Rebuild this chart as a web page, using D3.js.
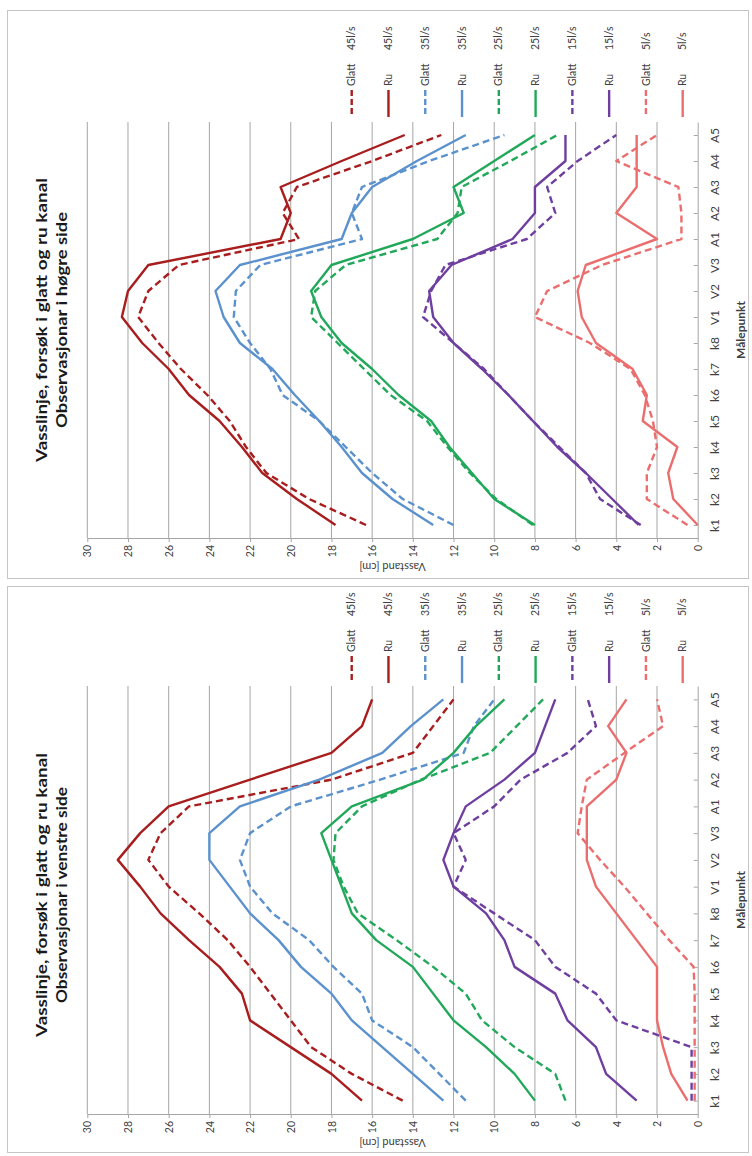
<!DOCTYPE html>
<html>
<head>
<meta charset="utf-8">
<script src="https://cdn.jsdelivr.net/npm/d3@7/dist/d3.min.js"></script>
<style>
  body { margin: 0; background: #fff; }
  svg text { font-family: Lato, "Open Sans", sans-serif; fill: #404040; }
</style>
</head>
<body>
<div id="chart"></div>
<script>
// målepunkt along the channel, and the value ticks (cm)
var categories = ["k1", "k2", "k3", "k4", "k5", "k6", "k7", "k8", "V1", "V2", "V3", "A1", "A2", "A3", "A4", "A5"];
var valueTicks = [0, 2, 4, 6, 8, 10, 12, 14, 16, 18, 20, 22, 24, 26, 28, 30];
var flows = ["45l/s", "35l/s", "25l/s", "15l/s", "5l/s"];
var flowColors = ["#a81d1d", "#5b91cc", "#22a85a", "#6f3fa0", "#eb6e6e"];

// høgre side
var hoRu45    = [17.8, 19.7, 21.4, 22.4, 23.5, 25.0, 26.0, 27.3, 28.3, 28.0, 27.0, 20.5, 20.0, 20.5, 17.5, 14.4];
var hoGlatt45 = [16.3, 19.1, 21.2, 22.2, 23.0, 24.1, 25.4, 26.5, 27.5, 27.0, 25.5, 19.6, 20.4, 19.7, 16.0, 12.6];
var hoRu35    = [13.0, 15.0, 16.5, 17.5, 18.6, 19.8, 20.9, 22.5, 23.3, 23.7, 22.5, 17.5, 17.0, 16.0, 13.8, 11.4];
var hoGlatt35 = [12.0, 14.5, 16.0, 17.3, 18.6, 20.4, 21.0, 22.0, 22.8, 22.7, 21.5, 16.5, 17.0, 16.5, 13.2, 9.5];
var hoRu25    = [8.0, 10.0, 11.1, 12.2, 13.1, 14.7, 16.0, 17.5, 18.5, 19.0, 18.0, 14.0, 11.5, 12.0, 10.0, 8.0];
var hoGlatt25 = [8.1, 9.9, 11.2, 12.3, 13.3, 15.1, 16.4, 17.7, 19.0, 18.8, 17.3, 12.8, 11.8, 11.6, 9.2, 6.9];
var hoRu15    = [2.9, 4.2, 5.5, 6.9, 8.1, 9.3, 10.6, 12.0, 13.0, 13.2, 12.1, 9.1, 8.0, 8.0, 6.5, 6.5];
var hoGlatt15 = [2.8, 4.8, 5.5, 6.8, 8.1, 9.3, 10.5, 12.0, 13.5, 13.1, 12.4, 8.4, 7.0, 7.4, 5.9, 4.0];
var hoRu5     = [0.0, 1.2, 1.45, 1.0, 2.7, 2.5, 3.2, 5.0, 5.7, 5.9, 5.5, 2.0, 4.0, 3.0, 3.0, 3.0];
var hoGlatt5  = [0.5, 2.5, 2.5, 2.0, 2.2, 2.6, 3.3, 5.3, 8.0, 7.4, 4.7, 0.8, 0.8, 0.95, 4.0, 2.0];

// venstre side
var veRu45    = [16.5, 18.0, 20.0, 22.0, 22.4, 23.5, 25.0, 26.4, 27.4, 28.5, 27.4, 26.0, 22.0, 18.0, 16.5, 16.0];
var veGlatt45 = [14.5, 17.0, 19.0, 20.0, 21.0, 22.0, 23.1, 24.5, 26.0, 27.0, 26.4, 25.0, 18.0, 14.0, 13.0, 12.0];
var veRu35    = [12.5, 14.0, 15.5, 17.0, 18.0, 19.5, 20.6, 22.0, 23.0, 24.0, 24.0, 22.5, 18.6, 15.5, 14.1, 12.5];
var veGlatt35 = [11.4, 12.7, 14.0, 16.0, 16.5, 17.9, 19.1, 20.9, 22.0, 22.5, 22.0, 20.0, 15.6, 11.5, 11.0, 10.0];
var veRu25    = [8.0, 9.0, 10.4, 12.0, 13.0, 14.0, 15.8, 17.0, 17.5, 18.0, 18.5, 17.0, 13.5, 12.0, 10.9, 9.5];
var veGlatt25 = [6.5, 7.0, 9.0, 10.6, 11.4, 13.0, 14.8, 16.7, 17.4, 17.9, 17.8, 16.5, 13.6, 10.2, 8.9, 7.6];
var veRu15    = [3.0, 4.5, 5.0, 6.4, 7.0, 9.0, 9.5, 10.4, 12.0, 12.5, 12.0, 11.4, 9.5, 8.0, 7.5, 7.0];
var veGlatt15 = [0.3, 0.3, 0.3, 4.0, 5.0, 7.0, 8.0, 10.0, 12.0, 11.4, 12.0, 10.0, 8.7, 6.4, 5.0, 5.4];
var veRu5     = [0.5, 1.3, 1.7, 2.0, 2.0, 2.0, 3.0, 4.0, 5.0, 5.45, 5.45, 5.45, 4.0, 3.5, 4.4, 3.5];
var veGlatt5  = [0.15, 0.15, 0.15, 0.15, 0.15, 0.2, 1.4, 2.5, 3.6, 4.8, 5.9, 5.7, 5.45, 3.6, 1.7, 2.0];

function seriesFor(glatt, ru) {
    var out = [];
    flows.forEach(function (f, i) {
        out.push({name: "Glatt", flow: f, color: flowColors[i], dashed: true, values: glatt[i]});
        out.push({name: "Ru", flow: f, color: flowColors[i], dashed: false, values: ru[i]});
    });
    return out;
}

// the charts are stored turned a quarter turn, so value runs along x and målepunkt up along y
var panels = [
    {top: 10, bottom: 578, plotTop: 122, plotBottom: 538, legendTop: 90, titleY: 320,
        title: ["Vasslinje,  forsøk i glatt og ru kanal", "Observasjonar i høgre side"],
        series: seriesFor([hoGlatt45, hoGlatt35, hoGlatt25, hoGlatt15, hoGlatt5],
                          [hoRu45, hoRu35, hoRu25, hoRu15, hoRu5])},
    {top: 586, bottom: 1152, plotTop: 686, plotBottom: 1114, legendTop: 656, titleY: 895,
        title: ["Vasslinje,  forsøk i glatt og ru kanal", "Observasjonar i venstre side"],
        series: seriesFor([veGlatt45, veGlatt35, veGlatt25, veGlatt15, veGlatt5],
                          [veRu45, veRu35, veRu25, veRu15, veRu5])}
];
var titleLengths = [284, 216];

var svg = d3.select("#chart").append("svg")
    .attr("width", 752)
    .attr("height", 1156);

var x = d3.scaleLinear().domain([0, 30]).range([697.7, 87.3]);

function vtext(g, tx, ty, str) {
    return g.append("text")
        .attr("transform", "translate(" + tx + "," + ty + ") rotate(-90)")
        .text(str);
}

function drawPanel(p) {
    var g = svg.append("g");
    var y = d3.scalePoint().domain(categories)
        .range([p.plotBottom, p.plotTop]).padding(0.5);

    g.append("rect")
        .attr("x", 7.5).attr("y", p.top + 0.5)
        .attr("width", 741).attr("height", p.bottom - p.top)
        .attr("fill", "#fff").attr("stroke", "#c6c6c6");

    // gridlines
    g.selectAll(".grid")
        .data(valueTicks.filter(function (d) { return d > 0; }))
        .enter().append("line")
        .attr("class", "grid")
        .attr("x1", function (d) { return x(d); })
        .attr("x2", function (d) { return x(d); })
        .attr("y1", p.plotTop).attr("y2", p.plotBottom)
        .attr("stroke", "#a6a6a6").attr("stroke-width", 1);

    // value axis (Vasstand)
    var va = g.append("g")
        .attr("transform", "translate(0," + p.plotBottom + ")")
        .call(d3.axisBottom(x).tickValues(valueTicks).tickSizeInner(4).tickSizeOuter(0));
    va.select(".domain").attr("stroke", "#a6a6a6");
    va.selectAll(".tick line").attr("stroke", "#a6a6a6");
    va.selectAll(".tick text")
        .attr("x", -7).attr("y", 0).attr("dy", "0.35em")
        .attr("text-anchor", "end")
        .attr("transform", "rotate(-90)")
        .style("font-size", "10.5px");

    g.append("text")
        .attr("transform", "translate(" + (x(0) + x(30)) / 2 + "," + (p.plotBottom + 29) + ") rotate(180)")
        .attr("text-anchor", "middle").attr("dy", "0.35em")
        .style("font-size", "11px")
        .text("Vasstand [cm]");

    // category axis (Målepunkt)
    var ca = g.append("g")
        .attr("transform", "translate(" + x(0) + ",0)")
        .call(d3.axisRight(y).tickSizeInner(-4).tickSizeOuter(0));
    ca.select(".domain").attr("stroke", "#a6a6a6");
    ca.selectAll(".tick line").attr("stroke", "#a6a6a6");
    ca.selectAll(".tick text")
        .attr("x", 0).attr("y", 21).attr("dy", 0)
        .attr("text-anchor", "middle")
        .attr("transform", "rotate(-90)")
        .style("font-size", "12px");

    vtext(g, 745, (p.plotTop + p.plotBottom) / 2, "Målepunkt")
        .attr("text-anchor", "middle")
        .style("font-size", "12px").style("font-weight", "bold");

    // title
    p.title.forEach(function (t, i) {
        vtext(g, 47 + 20 * i, p.titleY, t)
            .attr("text-anchor", "middle")
            .attr("textLength", titleLengths[i])
            .attr("lengthAdjust", "spacingAndGlyphs")
            .style("font-size", "16px").style("font-weight", "bold")
            .style("fill", "#1a1a1a");
    });

    // lines
    var line = d3.line()
        .x(function (d) { return x(d); })
        .y(function (d, i) { return y(categories[i]); });

    g.selectAll(".serie")
        .data(p.series)
        .enter().append("path")
        .attr("class", "serie")
        .attr("d", function (d) { return line(d.values); })
        .attr("fill", "none")
        .attr("stroke", function (d) { return d.color; })
        .attr("stroke-width", 2.4)
        .attr("stroke-linejoin", "round")
        .attr("stroke-dasharray", function (d) { return d.dashed ? "7,4" : null; });

    // legend
    var lx = d3.scalePoint().domain(d3.range(p.series.length)).range([351.7, 682.7]);
    var legend = g.selectAll(".legend")
        .data(p.series)
        .enter().append("g")
        .attr("class", "legend")
        .attr("transform", function (d, i) { return "translate(" + lx(i) + ",0)"; });

    legend.append("line")
        .attr("x1", 0).attr("x2", 0)
        .attr("y1", p.legendTop).attr("y2", p.legendTop + 27)
        .attr("stroke", function (d) { return d.color; })
        .attr("stroke-width", 2.4)
        .attr("stroke-dasharray", function (d) { return d.dashed ? "6,3" : null; });

    legend.append("text")
        .attr("transform", "translate(0," + (p.legendTop - 4) + ") rotate(-90)")
        .attr("dy", "0.35em")
        .style("font-size", "10.5px")
        .text(function (d) { return d.name; });

    legend.append("text")
        .attr("transform", "translate(0," + (p.legendTop - 40) + ") rotate(-90)")
        .attr("dy", "0.35em")
        .style("font-size", "10.5px")
        .text(function (d) { return d.flow; });
}

panels.forEach(drawPanel);
</script>
</body>
</html>
